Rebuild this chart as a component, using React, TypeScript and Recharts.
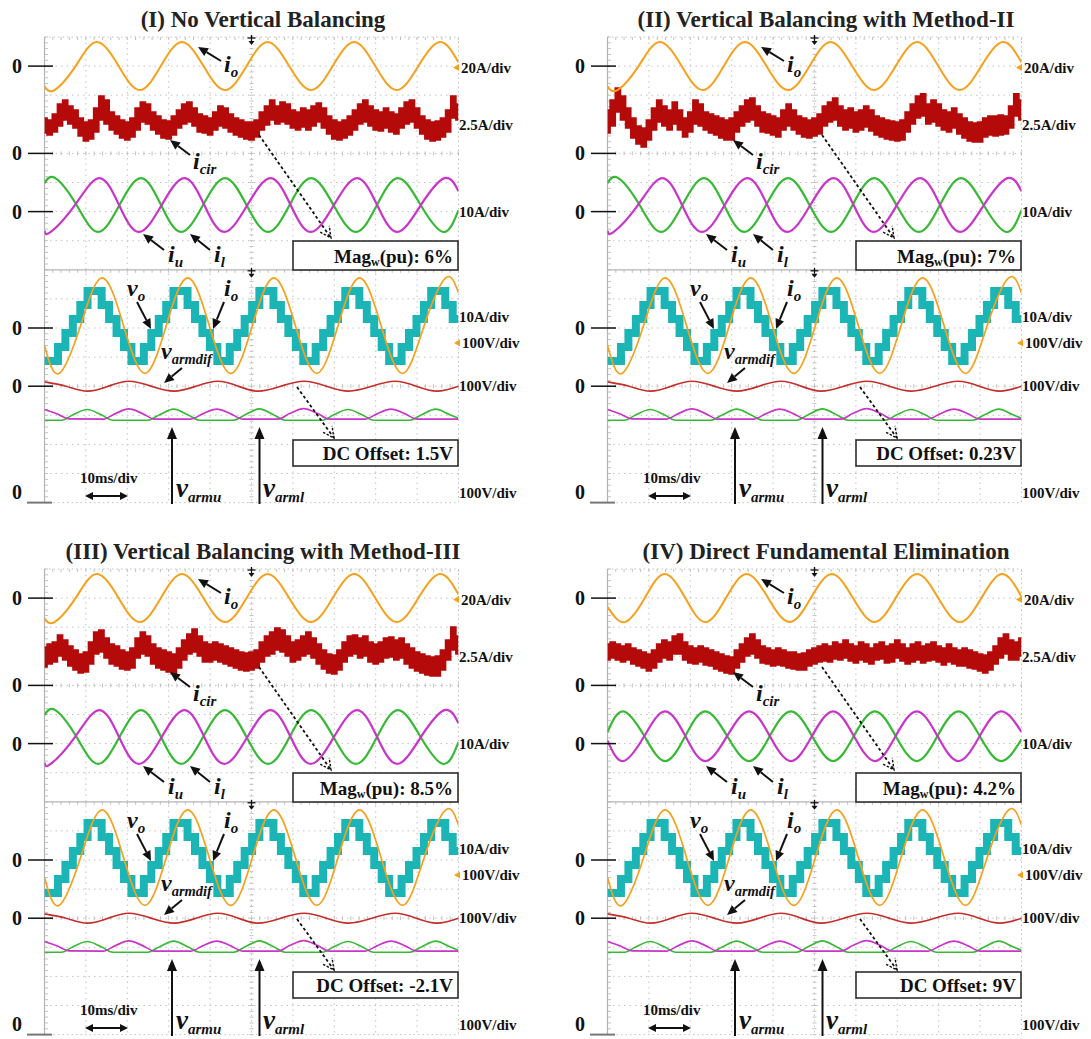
import React from "react";
import { ComposedChart, Line, Area, XAxis, YAxis } from "recharts";

// ---------------- data ----------------
const TITLES = [
  "(I) No Vertical Balancing",
  "(II) Vertical Balancing with Method-II",
  "(III) Vertical Balancing with Method-III",
  "(IV) Direct Fundamental Elimination",
];
const MAG_TEXT = ["6%", "7%", "8.5%", "4.2%"];
const DC_TEXT = ["1.5V", "0.23V", "-2.1V", "9V"];
const UNIT_LABELS = ["20A/div", "2.5A/div", "10A/div", "10A/div", "100V/div", "100V/div", "100V/div"];
const TIME_DIV = "10ms/div";

// time grid (ms) for the circulating current band
const T_GRID = [0,1.25,2.5,3.75,5,6.25,7.5,8.75,10,11.25,12.5,13.75,15,16.25,17.5,18.75,20,21.25,22.5,23.75,25,26.25,27.5,28.75,30,31.25,32.5,33.75,35,36.25,37.5,38.75,40,41.25,42.5,43.75,45,46.25,47.5,48.75,50,51.25,52.5,53.75,55,56.25,57.5,58.75,60,61.25,62.5,63.75,65,66.25,67.5,68.75,70,71.25,72.5,73.75,75,76.25,77.5,78.75,80,81.25,82.5,83.75,85,86.25,87.5,88.75,90,91.25,92.5,93.75,95,96.25,97.5,98.75,100];

// i_cir upper / lower envelope (A)
const ICIR_HI_1 = [3.04,2.87,3.38,4.24,4.59,4.07,3.73,3.04,2.70,2.87,3.90,4.93,4.59,3.56,3.21,2.87,2.70,3.04,3.90,4.42,4.24,3.56,3.21,2.87,2.78,3.21,3.73,4.24,4.42,3.90,3.38,3.21,3.04,3.56,4.07,3.90,3.38,3.04,2.87,2.70,2.70,2.87,3.56,4.07,4.59,4.07,4.42,4.24,3.73,3.56,3.90,3.73,4.07,4.33,3.90,3.21,2.87,2.70,2.87,3.21,3.73,4.24,4.59,4.07,3.73,3.56,3.90,3.56,3.38,3.90,4.42,4.59,3.90,3.21,2.87,2.70,2.78,3.04,3.73,4.93,4.24];
const ICIR_LO_1 = [1.75,1.58,1.84,2.35,2.87,2.53,2.18,1.49,1.07,1.24,1.84,2.87,2.53,2.01,1.67,1.32,1.15,1.41,2.01,2.70,2.53,2.01,1.67,1.32,1.24,1.58,2.18,2.53,2.70,2.35,1.84,1.75,1.58,2.01,2.35,2.18,1.84,1.58,1.41,1.24,1.15,1.41,2.01,2.44,2.87,2.53,2.70,2.53,2.18,2.01,2.27,2.01,2.35,2.70,2.18,1.67,1.24,1.15,1.32,1.58,2.01,2.53,2.70,2.35,2.01,1.92,2.18,1.84,1.67,2.18,2.53,2.70,2.18,1.67,1.24,1.07,1.15,1.41,1.84,3.04,2.87];
const ICIR_HI_2 = [3.73,4.59,5.62,4.93,3.90,3.04,2.35,2.18,2.87,3.90,4.59,4.07,3.73,4.42,3.73,3.04,3.56,4.59,4.24,3.56,3.38,3.21,3.04,2.87,3.04,3.56,4.07,4.59,4.76,4.07,3.56,3.38,3.21,3.04,3.73,4.24,3.73,3.21,3.04,2.87,3.04,3.38,4.07,4.42,4.76,4.07,3.73,3.90,3.56,3.73,4.07,3.73,3.21,3.04,2.87,2.78,2.70,2.87,3.56,4.24,4.93,5.11,4.24,4.59,4.24,3.73,3.56,3.90,3.38,3.04,2.70,2.61,2.70,3.04,3.21,3.21,3.30,3.21,4.07,5.11,4.59];
const ICIR_LO_2 = [1.75,2.35,3.56,2.87,2.18,1.32,0.81,0.55,1.15,2.01,2.70,2.35,2.01,2.53,2.01,1.41,1.84,2.53,2.35,2.01,1.75,1.58,1.32,1.15,1.15,1.84,2.35,2.70,2.87,2.35,1.84,1.75,1.58,1.41,2.01,2.35,2.01,1.67,1.41,1.32,1.49,1.67,2.35,2.70,2.87,2.35,2.01,2.18,1.84,2.01,2.27,1.92,1.58,1.41,1.24,1.15,1.07,1.15,1.84,2.53,3.04,3.21,2.53,2.70,2.35,2.01,1.84,2.18,1.67,1.32,1.07,0.98,0.98,1.41,1.58,1.49,1.58,1.67,2.18,3.21,2.87];
const ICIR_HI_3 = [3.30,3.56,3.73,4.33,3.90,3.38,3.04,2.70,2.87,3.73,4.59,4.76,4.07,3.56,3.38,3.04,2.87,3.21,4.07,4.59,4.24,3.56,3.21,3.04,2.87,2.70,3.21,3.90,4.42,4.85,4.24,3.73,3.56,3.73,3.56,3.38,3.21,3.04,2.87,2.78,2.87,3.04,3.73,4.24,4.59,4.93,4.76,4.24,3.73,3.90,4.24,4.59,4.07,3.56,3.04,2.70,2.61,3.04,3.73,4.24,4.33,4.07,4.24,3.73,3.56,3.73,4.07,4.16,3.90,4.07,3.56,3.21,2.87,2.70,2.53,2.44,2.53,3.04,3.90,5.02,4.24];
const ICIR_LO_3 = [1.58,1.84,2.01,2.53,2.18,1.67,1.32,1.07,1.15,1.84,2.70,2.87,2.35,1.84,1.67,1.41,1.32,1.49,2.35,2.70,2.53,1.84,1.49,1.32,1.15,0.98,1.49,2.18,2.70,2.87,2.53,2.01,2.01,2.18,2.01,1.84,1.67,1.49,1.32,1.24,1.32,1.49,2.01,2.53,2.70,3.04,2.87,2.53,2.01,2.18,2.53,2.70,2.35,1.84,1.41,1.07,0.98,1.32,2.01,2.53,2.70,2.35,2.53,2.01,1.84,2.01,2.35,2.44,2.18,2.35,1.84,1.49,1.24,1.07,0.89,0.81,0.81,1.32,2.18,3.04,2.70];
const ICIR_HI_4 = [3.56,3.73,3.56,3.38,3.56,3.21,3.04,2.87,2.70,3.04,3.56,3.90,3.73,4.24,4.42,3.73,3.38,3.21,3.38,3.21,3.04,2.87,2.70,2.53,2.44,3.04,3.56,4.07,4.42,3.90,3.38,3.21,3.04,3.21,3.04,2.87,2.87,2.70,2.78,3.04,3.21,3.38,3.56,3.38,3.73,3.56,3.90,3.56,3.38,3.73,3.56,3.21,3.56,3.73,3.38,3.56,3.90,3.56,3.21,3.56,3.73,3.38,3.56,3.73,3.38,3.21,3.56,3.21,3.04,3.21,3.04,2.87,2.70,2.61,2.87,3.38,4.07,4.42,3.90,3.73,4.07];
const ICIR_LO_4 = [2.18,2.35,2.18,2.01,2.18,1.84,1.67,1.49,1.24,1.49,2.01,2.35,2.18,2.70,2.70,2.18,1.92,1.84,2.01,1.75,1.67,1.41,1.24,1.07,0.98,1.49,2.01,2.53,2.70,2.35,1.92,1.84,1.67,1.75,1.67,1.49,1.41,1.32,1.32,1.67,1.84,2.01,2.10,2.01,2.27,2.18,2.35,2.10,1.92,2.18,2.01,1.84,2.18,2.27,1.92,2.01,2.35,2.10,1.84,2.01,2.18,1.92,2.10,2.18,2.01,1.75,2.01,1.84,1.67,1.67,1.49,1.41,1.24,1.07,1.32,1.84,2.35,2.70,2.18,2.18,2.53];

// output current, top screen [ms, A]
const IO_TOP = [[0,-13.9],[2.4,-16.5],[7.5,0],[12.6,16.5],[17.9,0],[23.0,-16.5],[28.1,0],[33.2,16.5],[38.4,0],[43.6,-16.5],[48.8,0],[53.9,16.5],[59.1,0],[64.4,-16.5],[69.6,0],[74.8,16.5],[79.9,0],[85.1,-16.5],[90.3,0],[95.5,16.5],[100,2.5]];
const IO_TOP_IV = [[0,-6],[4.2,-16.5],[9.0,0],[13.8,16.5],[18.8,0],[23.6,-16.5],[28.6,0],[33.6,16.5],[38.8,0],[44.0,-16.5],[49.1,0],[54.2,16.5],[59.3,0],[64.5,-16.5],[69.6,0],[74.8,16.5],[79.9,0],[85.1,-16.5],[90.3,0],[95.3,16.5],[100,1]];
// upper / lower arm currents [ms, A]
const IU = [[0,-6.6],[1.5,-7.0],[7.35,2.25],[13.2,11.5],[18.0,2.25],[22.8,-7.0],[28.3,2.25],[33.8,11.5],[38.6,2.25],[43.4,-7.0],[49.0,2.25],[54.6,11.5],[59.45,2.25],[64.3,-7.0],[69.9,2.25],[75.5,11.5],[80.35,2.25],[85.2,-7.0],[90.9,2.25],[96.6,11.5],[100,7.0]];
const IL = [[0,9.8],[2.6,11.5],[7.75,2.25],[12.9,-7.0],[18.1,2.25],[23.3,11.5],[28.15,2.25],[33.0,-7.0],[38.3,2.25],[43.6,11.5],[48.8,2.25],[54.0,-7.0],[59.2,2.25],[64.4,11.5],[69.8,2.25],[75.2,-7.0],[80.3,2.25],[85.4,11.5],[90.85,2.25],[96.3,-7.0],[100,0.5]];
const IU_IV = [[0,1.0],[3.8,-6.0],[8.9,2.6],[13.9,11.1],[18.8,2.6],[23.6,-6.0],[28.9,2.6],[34.2,11.1],[39.2,2.6],[44.3,-6.0],[49.4,2.6],[54.5,11.1],[59.5,2.6],[64.6,-6.0],[69.6,2.6],[74.7,11.1],[79.7,2.6],[84.8,-6.0],[89.9,2.6],[95.0,11.1],[100,4.0]];
const IL_IV = [[0,4.0],[3.8,11.1],[8.9,2.6],[13.9,-6.0],[18.8,2.6],[23.6,11.1],[28.9,2.6],[34.2,-6.0],[39.2,2.6],[44.3,11.1],[49.4,2.6],[54.5,-6.0],[59.5,2.6],[64.6,11.1],[69.6,2.6],[74.7,-6.0],[79.7,2.6],[84.8,11.1],[89.9,2.6],[95.0,-6.0],[100,1.5]];
// output voltage staircase [ms, V]
const VO = [[0,-113],[3.25,-65],[5.05,-17],[6.85,31],[8.65,79],[10.4,127],[13.8,79],[15.6,31],[17.4,-17],[19.2,-65],[21.0,-113],[24.0,-65],[25.8,-17],[27.6,31],[29.4,79],[31.15,127],[34.55,79],[36.35,31],[38.15,-17],[39.95,-65],[41.75,-113],[44.75,-65],[46.55,-17],[48.35,31],[50.15,79],[51.9,127],[55.3,79],[57.1,31],[58.9,-17],[60.7,-65],[62.5,-113],[65.5,-65],[67.3,-17],[69.1,31],[70.9,79],[72.65,127],[76.05,79],[77.85,31],[79.65,-17],[81.45,-65],[83.25,-113],[86.25,-65],[88.05,-17],[89.85,31],[91.65,79],[93.4,127],[96.8,79],[98.6,31],[100,31]];
// output current, bottom screen [ms, A]
const IO_BOT = [[0,-6],[3.5,-15.6],[8.7,0.8],[13.9,17.2],[19.1,0.8],[24.25,-15.6],[29.4,0.8],[34.6,17.2],[39.8,0.8],[45.0,-15.6],[50.2,0.8],[55.4,17.2],[60.6,0.8],[65.75,-15.6],[70.9,0.8],[76.1,17.2],[81.3,0.8],[86.5,-15.6],[91.7,0.8],[96.9,17.2],[100,12]];
// arm voltage difference [ms, V]
const VARMDIF = [[0,15],[5.2,0],[10.3,-17],[15.4,0],[20.4,17],[25.8,0],[31.3,-17],[36.6,0],[41.9,17],[46.8,0],[51.6,-17],[57.1,0],[62.7,17],[68.1,0],[73.5,-17],[79.1,0],[84.7,17],[89.8,0],[94.8,-17],[100,0]];
// upper / lower arm voltages [ms, V]
const VARMU = [[0,320],[2.8,306],[6.0,288],[14.2,287],[17.0,305],[20.4,322],[23.8,305],[26.6,287],[35.4,287],[38.2,305],[41.6,321],[45.0,305],[47.8,287],[56.4,287],[59.2,306],[62.6,323],[66.0,306],[68.8,287],[77.5,287],[80.3,305],[83.7,321],[87.1,305],[89.9,287],[100,287]];
const VARML = [[0,283],[4.1,283],[6.9,302],[10.3,320],[13.7,302],[16.5,283],[25.0,283],[27.8,302],[31.2,321],[34.6,302],[37.4,283],[45.7,283],[48.5,302],[51.9,322],[55.3,302],[58.1,283],[67.1,283],[69.9,302],[73.3,320],[76.7,302],[79.5,283],[88.3,283],[91.1,302],[94.5,321],[97.9,302],[100,290]];

// channel placement: zero marker (division from bottom) and units per division
const CH = {
  ioTop: { zero: 15, scale: 20 },
  icir: { zero: 12, scale: 2.5 },
  iul: { zero: 10, scale: 10 },
  vo: { zero: 6, scale: 100 },
  ioBot: { zero: 6, scale: 10 },
  varmdif: { zero: 4, scale: 100 },
  varm: { zero: 0, scale: 100 },
};

// ---------------- layout / style ----------------
const W = 545, H = 530;
const PL = 44.5, PT = 37, PW = 414, PH = 465.6;
const DX = PW / 10, DY = PH / 16;
const OFFSETS = [[0, 0], [563, 0], [0, 532], [563, 532]];
const FONT = "'Liberation Serif', 'Times New Roman', Times, serif";
const C = {
  orange: "#f6a11c", red: "#b50a0a", mag: "#c934c9", green: "#37b935",
  cyan: "#1bb5b5", red2: "#c42f2a", grid: "#c2c2c2", ink: "#111",
};
const ydiv = (d: number) => PT + PH - d * DY;
const LABEL_POS = [
  { x: 461, y: 67.5, mk: true }, { x: 459, y: 125 }, { x: 459, y: 212 },
  { x: 459, y: 317 }, { x: 462, y: 343, mk: true }, { x: 459, y: 386 }, { x: 459, y: 493 },
];

const rows = (pts: number[][], ch: { zero: number; scale: number }) =>
  pts.map(([t, v]) => ({ t, y: ch.zero + v / ch.scale }));

function Grid() {
  const el: any[] = [];
  for (let k = 1; k < 10; k++) {
    const x = PL + k * DX;
    el.push(<line key={"v" + k} x1={x} x2={x} y1={PT} y2={PT + PH} stroke={C.grid} strokeDasharray="1.5 4" />);
  }
  for (let j = 1; j < 16; j++) {
    if (j === 8) continue;
    const y = PT + j * DY;
    el.push(<line key={"h" + j} x1={PL} x2={PL + PW} y1={y} y2={y} stroke={C.grid} strokeDasharray="1.5 4" />);
  }
  for (let m = 0; m <= 80; m++) {
    const y = PT + (m * DY) / 5;
    el.push(<line key={"lt" + m} x1={PL} x2={PL + 3.5} y1={y} y2={y} stroke={C.grid} />);
    el.push(<line key={"ct" + m} x1={PL + 5 * DX - 2} x2={PL + 5 * DX + 2} y1={y} y2={y} stroke={C.grid} />);
  }
  for (let m = 0; m <= 50; m++) {
    const x = PL + (m * DX) / 5;
    [PT, PT + 8 * DY].forEach((y, i) =>
      el.push(<line key={"tt" + m + "_" + i} x1={x} x2={x} y1={y} y2={y + 3} stroke={C.grid} />)
    );
    [PT + 4 * DY, PT + 12 * DY].forEach((y, i) =>
      el.push(<line key={"mt" + m + "_" + i} x1={x} x2={x} y1={y - 2} y2={y + 2} stroke={C.grid} />)
    );
  }
  return (
    <svg width={W} height={H} style={{ position: "absolute", left: 0, top: 0 }}>
      {el}
      <line x1={PL} x2={PL + PW} y1={PT} y2={PT} stroke={C.grid} strokeDasharray="1.5 3" />
      <line x1={PL + PW} x2={PL + PW} y1={PT} y2={PT + PH} stroke={C.grid} strokeDasharray="1.5 3" />
      <line x1={PL} x2={PL + PW} y1={PT + PH} y2={PT + PH} stroke={C.grid} strokeDasharray="1.5 3" />
      <line x1={PL} x2={PL} y1={PT} y2={PT + PH} stroke="#b4b4b4" strokeWidth={1.2} />
      <line x1={PL} x2={PL + PW} y1={PT + 8 * DY} y2={PT + 8 * DY} stroke="#b4b4b4" strokeWidth={1.2} />
    </svg>
  );
}

function Arrow({ x1, y1, x2, y2, w = 2, hl = 10, hw = 4.5 }: any) {
  const dx = x2 - x1, dy = y2 - y1, L = Math.hypot(dx, dy);
  const ux = dx / L, uy = dy / L, nx = -uy, ny = ux;
  const bx = x2 - ux * hl, by = y2 - uy * hl;
  return (
    <g>
      <line x1={x1} y1={y1} x2={bx} y2={by} stroke={C.ink} strokeWidth={w} />
      <polygon points={`${x2},${y2} ${bx + nx * hw},${by + ny * hw} ${bx - nx * hw},${by - ny * hw}`} fill={C.ink} />
    </g>
  );
}

function DotArrow({ x1, y1, x2, y2 }: any) {
  const dx = x2 - x1, dy = y2 - y1, L = Math.hypot(dx, dy);
  const ux = dx / L, uy = dy / L, nx = -uy, ny = ux;
  const bx = x2 - ux * 11, by = y2 - uy * 11;
  return (
    <g stroke={C.ink} strokeWidth={1.8} fill="none">
      <line x1={x1} y1={y1} x2={x2} y2={y2} strokeDasharray="3 2.5" />
      <polyline points={`${bx + nx * 5.5},${by + ny * 5.5} ${x2},${y2} ${bx - nx * 5.5},${by - ny * 5.5}`} strokeDasharray="2.5 1.5" strokeWidth={1.4} />
    </g>
  );
}

function VarLabel({ x, y, main, sub, size = 24, subSize = 15 }: any) {
  return (
    <text x={x} y={y} fontFamily={FONT} fontStyle="italic" fontWeight="bold" fontSize={size} fill={C.ink}>
      {main}
      <tspan fontSize={subSize} dy={size * 0.2}>{sub}</tspan>
    </text>
  );
}

function Trig({ x, y }: any) {
  return (
    <g stroke={C.ink} strokeWidth={1.3}>
      <line x1={x - 4} x2={x + 4} y1={y + 1} y2={y + 1} />
      <line x1={x} x2={x} y1={y - 2} y2={y + 4} />
      <polygon points={`${x - 3},${y + 4} ${x + 3},${y + 4} ${x},${y + 8}`} fill={C.ink} stroke="none" />
    </g>
  );
}

function Annotations({ idx }: { idx: number }) {
  const zeros = [15, 12, 10, 6, 4].map(ydiv);
  const tx = { fontFamily: FONT, fontWeight: "bold" as const, fill: C.ink };
  return (
    <svg width={W} height={H} style={{ position: "absolute", left: 0, top: 0, overflow: "visible" }}>
      <text x={263} y={27} textAnchor="middle" fontSize={23} {...tx} fill="#222">{TITLES[idx]}</text>
      {zeros.map((y, i) => (
        <g key={i}>
          <text x={12} y={y + 7} fontSize={20} {...tx}>0</text>
          <line x1={28} x2={53} y1={y} y2={y} stroke={C.ink} strokeWidth={1.5} />
        </g>
      ))}
      <text x={12} y={499} fontSize={20} {...tx}>0</text>
      <line x1={27} x2={52} y1={PT + PH} y2={PT + PH} stroke="#777" strokeWidth={2} />
      {UNIT_LABELS.map((s, i) => (
        <g key={s + i}>
          {LABEL_POS[i].mk && (
            <polygon points={`${LABEL_POS[i].x - 8},${LABEL_POS[i].y} ${LABEL_POS[i].x - 2},${LABEL_POS[i].y - 3.5} ${LABEL_POS[i].x - 2},${LABEL_POS[i].y + 3.5}`} fill={C.orange} />
          )}
          <text x={LABEL_POS[i].x} y={LABEL_POS[i].y + 5} fontSize={15} {...tx}>{s}</text>
        </g>
      ))}
      <Trig x={PL + 5 * DX} y={PT} />
      <Trig x={PL + 5 * DX} y={PT + 8 * DY} />

      {/* top screen */}
      <Arrow x1={221} y1={61} x2={198} y2={47} />
      <VarLabel x={224} y={72} main="i" sub="o" />
      <Arrow x1={190} y1={155} x2={170} y2={140} />
      <VarLabel x={193} y={169} main="i" sub="cir" />
      <Arrow x1={164} y1={250} x2={143} y2={234} />
      <VarLabel x={168} y={262} main="i" sub="u" />
      <Arrow x1={210} y1={250} x2={190} y2={234} />
      <VarLabel x={214} y={262} main="i" sub="l" />
      <DotArrow x1={259} y1={135} x2={331} y2={238} />
      <rect x={293} y={241} width={165} height={29} fill="#fff" stroke="#222" strokeWidth={1.5} />
      <text x={453} y={263} textAnchor="end" fontSize={19} {...tx}>
        Mag<tspan fontSize={12} dy={3}>w</tspan><tspan dy={-3}>(pu): {MAG_TEXT[idx]}</tspan>
      </text>

      {/* bottom screen */}
      <VarLabel x={127} y={296} main="v" sub="o" />
      <Arrow x1={137} y1={302} x2={151} y2={329} />
      <VarLabel x={224} y={296} main="i" sub="o" />
      <Arrow x1={224} y1={302} x2={213} y2={329} />
      <VarLabel x={161} y={359} main="v" sub="armdif" subSize={14.5} />
      <Arrow x1={182} y1={368} x2={164} y2={383} />
      <DotArrow x1={297} y1={387} x2={334} y2={438} />
      <rect x={293} y={440} width={165} height={26} fill="#fff" stroke="#222" strokeWidth={1.5} />
      <text x={453} y={460} textAnchor="end" fontSize={19} {...tx}>DC Offset: {DC_TEXT[idx]}</text>
      <text x={80} y={483} fontSize={15} {...tx}>{TIME_DIV}</text>
      <line x1={92} x2={121} y1={496} y2={496} stroke={C.ink} strokeWidth={2} />
      <polygon points="85,496 93,492 93,500" fill={C.ink} />
      <polygon points="128,496 120,492 120,500" fill={C.ink} />
      <Arrow x1={172} y1={504} x2={172} y2={427} hl={12} hw={5} />
      <VarLabel x={176} y={497} main="v" sub="armu" size={27} subSize={15} />
      <Arrow x1={259.5} y1={504} x2={259.5} y2={427} hl={12} hw={5} />
      <VarLabel x={263} y={497} main="v" sub="arml" size={27} subSize={15} />
    </svg>
  );
}

function Scope({ idx }: { idx: number }) {
  const HI = [ICIR_HI_1, ICIR_HI_2, ICIR_HI_3, ICIR_HI_4][idx];
  const LO = [ICIR_LO_1, ICIR_LO_2, ICIR_LO_3, ICIR_LO_4][idx];
  const icir = T_GRID.map((t, i) => ({
    t,
    r: [CH.icir.zero + LO[i] / CH.icir.scale, CH.icir.zero + HI[i] / CH.icir.scale],
  }));
  const ioTop = rows(idx === 3 ? IO_TOP_IV : IO_TOP, CH.ioTop);
  const iu = rows(idx === 3 ? IU_IV : IU, CH.iul);
  const il = rows(idx === 3 ? IL_IV : IL, CH.iul);
  const common = { dot: false, activeDot: false, isAnimationActive: false, dataKey: "y", legendType: "none" as const };
  return (
    <ComposedChart
      width={W}
      height={H}
      data={icir}
      margin={{ top: PT, left: PL, right: W - PL - PW, bottom: H - PT - PH }}
      style={{ position: "absolute", left: 0, top: 0 }}
    >
      <XAxis type="number" dataKey="t" domain={[0, 100]} hide allowDataOverflow />
      <YAxis type="number" domain={[0, 16]} hide allowDataOverflow />
      <Area dataKey="r" type="step" stroke={C.red} strokeWidth={1.6} fill={C.red} fillOpacity={1} isAnimationActive={false} dot={false} activeDot={false} />
      <Line {...common} data={il} type="natural" stroke={C.green} strokeWidth={2.2} />
      <Line {...common} data={iu} type="natural" stroke={C.mag} strokeWidth={2.2} />
      <Line {...common} data={ioTop} type="natural" stroke={C.orange} strokeWidth={2} />
      <Line {...common} data={rows(VO, CH.vo)} type="stepAfter" stroke={C.cyan} strokeWidth={8} />
      <Line {...common} data={rows(IO_BOT, CH.ioBot)} type="natural" stroke={C.orange} strokeWidth={1.7} />
      <Line {...common} data={rows(VARMDIF, CH.varmdif)} type="natural" stroke={C.red2} strokeWidth={1.7} />
      <Line {...common} data={rows(VARML, CH.varm)} type="monotone" stroke={C.green} strokeWidth={1.7} />
      <Line {...common} data={rows(VARMU, CH.varm)} type="monotone" stroke={C.mag} strokeWidth={1.7} />
    </ComposedChart>
  );
}

export default function App() {
  return (
    <div style={{ position: "absolute", left: 0, top: 0, width: 1091, height: 1039, overflow: "hidden", background: "#fff" }}>
      {OFFSETS.map(([dx, dy], idx) => (
        <div key={idx} style={{ position: "absolute", left: dx, top: dy, width: W, height: H }}>
          <Grid />
          <div style={{ position: "absolute", left: 0, top: 0 }}>
            <Scope idx={idx} />
          </div>
          <Annotations idx={idx} />
        </div>
      ))}
    </div>
  );
}
